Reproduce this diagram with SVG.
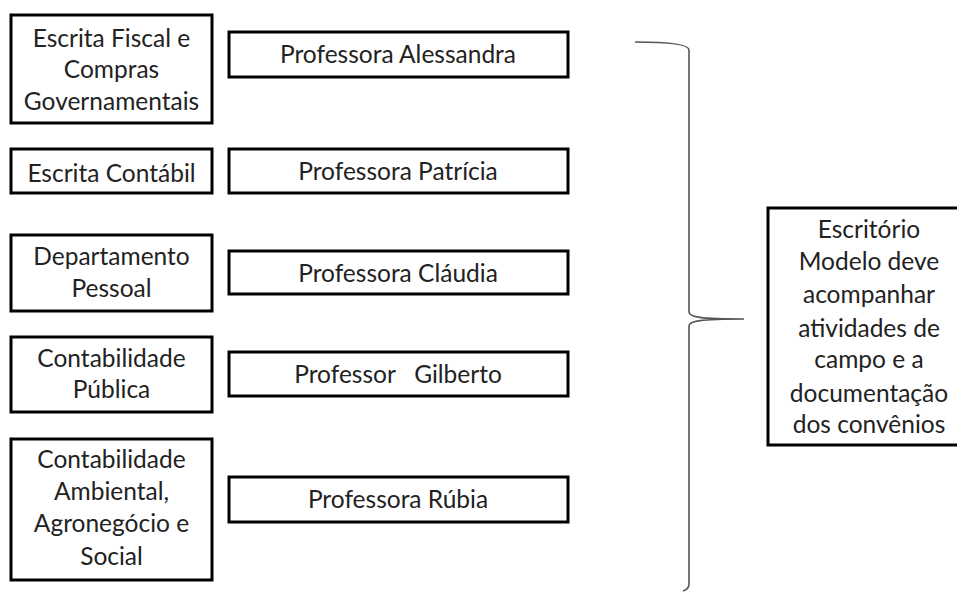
<svg xmlns="http://www.w3.org/2000/svg" width="957" height="592" viewBox="0 0 957 592">
<style>
.box{fill:#fff;stroke:#000;stroke-width:3}
.t{font-family:Lato,"Open Sans",sans-serif;font-size:24.5px;fill:#222;text-anchor:middle}
.brace{fill:none;stroke:#555;stroke-width:1.6}
</style>
<rect width="957" height="592" fill="#fff"/>
<g id="n-escrita-fiscal"><rect class="box" x="11" y="15" width="201" height="108"/>
<text class="t" x="111.5" y="47">Escrita Fiscal e</text>
<text class="t" x="111.5" y="78">Compras</text>
<text class="t" x="111.5" y="110">Governamentais</text></g>
<g id="n-escrita-contabil"><rect class="box" x="11" y="149" width="201" height="44"/>
<text class="t" x="111.5" y="182">Escrita Contábil</text></g>
<g id="n-departamento"><rect class="box" x="11" y="235" width="201" height="76"/>
<text class="t" x="111.5" y="265">Departamento</text>
<text class="t" x="111.5" y="297">Pessoal</text></g>
<g id="n-contab-publica"><rect class="box" x="11" y="337" width="201" height="75"/>
<text class="t" x="111.5" y="367">Contabilidade</text>
<text class="t" x="111.5" y="398">Pública</text></g>
<g id="n-contab-ambiental"><rect class="box" x="11" y="439" width="201" height="141"/>
<text class="t" x="111.5" y="468">Contabilidade</text>
<text class="t" x="111.5" y="500">Ambiental,</text>
<text class="t" x="111.5" y="532">Agronegócio e</text>
<text class="t" x="111.5" y="565">Social</text></g>
<g id="n-alessandra"><rect class="box" x="229" y="32" width="339" height="45"/>
<text class="t" x="398" y="63">Professora Alessandra</text></g>
<g id="n-patricia"><rect class="box" x="229" y="149" width="339" height="44"/>
<text class="t" x="398" y="180">Professora Patrícia</text></g>
<g id="n-claudia"><rect class="box" x="229" y="251" width="339" height="43"/>
<text class="t" x="398" y="282">Professora Cláudia</text></g>
<g id="n-gilberto"><rect class="box" x="229" y="352" width="339" height="44"/>
<text class="t" x="398" y="383" xml:space="preserve">Professor   Gilberto</text></g>
<g id="n-rubia"><rect class="box" x="229" y="477" width="339" height="45"/>
<text class="t" x="398" y="508">Professora Rúbia</text></g>
<g id="n-escritorio"><rect class="box" x="768" y="208" width="200" height="237"/>
<text class="t" x="869" y="238">Escritório</text>
<text class="t" x="869" y="270">Modelo deve</text>
<text class="t" x="869" y="303">acompanhar</text>
<text class="t" x="869" y="337">atividades de</text>
<text class="t" x="869" y="368">campo e a</text>
<text class="t" x="869" y="402">documentação</text>
<text class="t" x="869" y="433">dos convênios</text></g>
<g id="connectors">
<path class="brace" d="M635,42 C665,42 689,44 689,50 L689,312 C689,317 700,319 744,319 C700,319 689,321 689,326 L689,584 C689,588 686,590 683,591"/>
</g>
</svg>
